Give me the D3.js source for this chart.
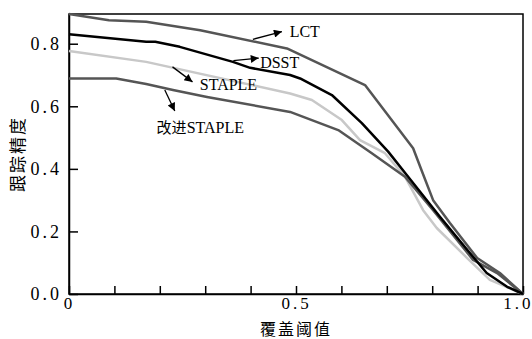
<!DOCTYPE html>
<html>
<head>
<meta charset="utf-8">
<script src="https://cdn.jsdelivr.net/npm/d3@7"></script>
<style>
  body { margin: 0; background: #fff; }
</style>
</head>
<body>
<div id="chart"></div>
<script>
// Data (overlap threshold -> tracking precision)
const lctX = [0, 0.088, 0.17, 0.289, 0.48, 0.652, 0.758, 0.778, 0.802, 0.839, 0.899, 0.949, 1.0];
const lctY = [0.895, 0.875, 0.870, 0.843, 0.785, 0.668, 0.466, 0.39, 0.30, 0.227, 0.115, 0.067, 0.0];

const dsstX = [0, 0.17, 0.19, 0.244, 0.361, 0.399, 0.487, 0.509, 0.579, 0.645, 0.703, 0.747, 0.817, 0.883, 0.92, 0.965, 1.0];
const dsstY = [0.83, 0.806, 0.806, 0.79, 0.742, 0.723, 0.70, 0.689, 0.636, 0.546, 0.455, 0.375, 0.247, 0.131, 0.067, 0.023, 0.0];

const stapleX = [0, 0.17, 0.487, 0.535, 0.601, 0.641, 0.696, 0.74, 0.78, 0.81, 0.877, 0.927, 1.0];
const stapleY = [0.777, 0.742, 0.641, 0.62, 0.556, 0.492, 0.45, 0.375, 0.268, 0.211, 0.115, 0.045, 0.0];

const impX = [0, 0.104, 0.17, 0.229, 0.304, 0.487, 0.593, 0.667, 0.74, 0.802, 0.89, 0.943, 1.0];
const impY = [0.689, 0.689, 0.671, 0.652, 0.63, 0.582, 0.524, 0.45, 0.375, 0.268, 0.109, 0.067, 0.0];

const xTicks = [0, 0.1, 0.2, 0.3, 0.4, 0.5, 0.6, 0.7, 0.8, 0.9, 1.0];
const xLabels = { 0: "0", 0.5: "0.5", 1: "1.0" };
const yTicks = [0, 0.2, 0.4, 0.6, 0.8];

// annotation labels: [text, textX, textY, arrowFromX, arrowFromY, arrowToX, arrowToY]
const notes = [
  ["LCT", 0.486, 0.821, 0.405, 0.814, 0.469, 0.839],
  ["DSST", 0.421, 0.722, 0.362, 0.746, 0.418, 0.754],
  ["STAPLE", 0.288, 0.652, 0.228, 0.726, 0.272, 0.678],
  ["改进STAPLE", 0.193, 0.514, 0.211, 0.652, 0.233, 0.585]
];

const SERIF = '"Liberation Serif", "DejaVu Serif", serif';
const CJK = '"Noto Sans CJK SC", sans-serif';

const width = 532;
const height = 339;
const margin = { top: 14, right: 9, bottom: 45, left: 69 };

const svg = d3.select("#chart")
  .append("svg")
  .attr("width", width)
  .attr("height", height);

svg.append("defs").append("marker")
  .attr("id", "arrow")
  .attr("viewBox", "0 0 10 10")
  .attr("refX", 10)
  .attr("refY", 5)
  .attr("markerWidth", 11)
  .attr("markerHeight", 8)
  .attr("markerUnits", "userSpaceOnUse")
  .attr("orient", "auto")
  .append("path")
  .attr("d", "M0,0L10,5L0,10z")
  .attr("fill", "#000");

const x = d3.scaleLinear()
  .domain([0, 1])
  .range([margin.left, width - margin.right]);

const y = d3.scaleLinear()
  .domain([0, 0.895])
  .range([height - margin.bottom, margin.top]);

// frame
svg.append("rect")
  .attr("x", x(0))
  .attr("y", y(0.895))
  .attr("width", x(1) - x(0))
  .attr("height", y(0) - y(0.895))
  .attr("fill", "none")
  .attr("stroke", "#000")
  .attr("stroke-width", 1.5);

// X axis
const gx = svg.append("g")
  .attr("transform", `translate(0,${y(0)})`)
  .call(d3.axisBottom(x)
    .tickValues(xTicks)
    .tickSizeInner(-8)
    .tickSizeOuter(0)
    .tickPadding(3)
    .tickFormat(d => xLabels[d] || ""));
gx.selectAll("text")
  .style("font-family", SERIF)
  .style("font-size", "17px")
  .attr("fill", "#000")
  .attr("letter-spacing", 3)
  .filter(d => d === 1)
  .attr("text-anchor", "end")
  .attr("dx", 10);

// Y axis
const gy = svg.append("g")
  .attr("transform", `translate(${x(0)},0)`)
  .call(d3.axisLeft(y)
    .tickValues(yTicks)
    .tickSizeInner(-9)
    .tickSizeOuter(0)
    .tickPadding(7)
    .tickFormat(d3.format(".1f")));
gy.selectAll("text")
  .style("font-family", SERIF)
  .style("font-size", "18px")
  .attr("fill", "#000")
  .attr("letter-spacing", 3);

svg.selectAll(".domain, .tick line")
  .attr("stroke", "#000")
  .attr("stroke-width", 1.5);

// axis titles
svg.append("text")
  .attr("x", x(0.5))
  .attr("y", 335)
  .attr("text-anchor", "middle")
  .style("font-family", CJK)
  .style("font-size", "16px")
  .attr("letter-spacing", 2)
  .text("覆盖阈值");

svg.append("text")
  .attr("transform", `translate(24,${(y(0) + y(0.895)) / 2}) rotate(-90)`)
  .attr("text-anchor", "middle")
  .style("font-family", CJK)
  .style("font-size", "17px")
  .attr("letter-spacing", 2)
  .text("跟踪精度");

// Lines
const line = d3.line()
  .x(d => x(d[0]))
  .y(d => y(d[1]));

const series = [
  { xs: stapleX, ys: stapleY, color: "#c8c8c8" },
  { xs: impX, ys: impY, color: "#555" },
  { xs: lctX, ys: lctY, color: "#555" },
  { xs: dsstX, ys: dsstY, color: "#000" }
];

series.forEach(s => {
  svg.append("path")
    .datum(d3.zip(s.xs, s.ys))
    .attr("fill", "none")
    .attr("stroke", s.color)
    .attr("stroke-width", 2.5)
    .attr("stroke-linejoin", "round")
    .attr("d", line);
});

// annotations
notes.forEach(n => {
  svg.append("line")
    .attr("x1", x(n[3]))
    .attr("y1", y(n[4]))
    .attr("x2", x(n[5]))
    .attr("y2", y(n[6]))
    .attr("stroke", "#000")
    .attr("stroke-width", 1.3)
    .attr("marker-end", "url(#arrow)");
  const t = svg.append("text")
    .attr("x", x(n[1]))
    .attr("y", y(n[2]))
    .style("font-family", SERIF)
    .style("font-size", "16px")
    .attr("fill", "#000");
  const m = n[0].match(/^([^A-Z]*)(.*)$/);
  if (m[1]) t.append("tspan").style("font-family", CJK).style("font-size", "15px").text(m[1]);
  t.append("tspan").text(m[2]);
});
</script>
</body>
</html>
